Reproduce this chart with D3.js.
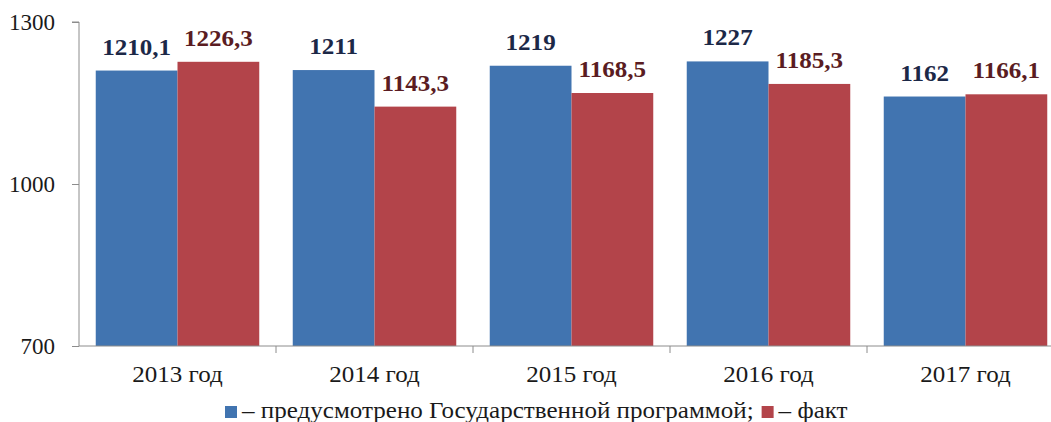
<!DOCTYPE html>
<html>
<head>
<meta charset="utf-8">
<script src="https://cdn.jsdelivr.net/npm/d3@7"></script>
<style>
  body { margin: 0; background: #fff; }
  svg { display: block; font-family: "Liberation Serif", "Times New Roman", serif; }
</style>
</head>
<body>
<div id="vis"></div>
<script>
const years = ['2013 год', '2014 год', '2015 год', '2016 год', '2017 год'];
const planned = [1210.1, 1211, 1219, 1227, 1162];
const actual = [1226.3, 1143.3, 1168.5, 1185.3, 1166.1];
const yTicks = [700, 1000, 1300];
const seriesNames = ['– предусмотрено Государственной программой;', '– факт'];

const width = 1051;
const height = 422;
const stretch = 1.09;

const svg = d3.select('#vis')
              .append('svg')
                .attr('width', width)
                .attr('height', height);

const x = d3.scaleBand()
            .domain(years)
            .range([79, 1064])
            .paddingInner(0.17)
            .paddingOuter(0.085);

const sub = d3.scaleBand()
              .domain([0, 1])
              .range([0, x.bandwidth()]);

const y = d3.scaleLinear()
            .domain([700, 1300])
            .range([346, 22]);

const colors = ['#4174b0', '#b3444a'];
const labelColors = ['#1c2847', '#5a1c22'];
const fmt = (v) => String(v).replace('.', ',');

// text stretched horizontally around (cx, cy)
function wide(sel, cx, cy) {
  sel.attr('transform', 'translate(' + cx + ',' + cy + ') scale(' + stretch + ',1)')
     .attr('x', 0).attr('y', 0);
  return sel;
}

// y axis
const yAxis = svg.append('g')
  .attr('transform', 'translate(79,0)')
  .call(d3.axisLeft(y).tickValues(yTicks).tickSize(7).tickPadding(17).tickFormat(d3.format('d')));
yAxis.select('.domain').attr('stroke', '#8c8c8c').attr('d', 'M-7,' + y(1300) + 'H0V' + y(700));
yAxis.selectAll('.tick line').attr('stroke', '#8c8c8c');
yAxis.selectAll('.tick text')
  .attr('font-size', 23)
  .attr('fill', '#1a1a1a')
  .attr('font-family', '"Liberation Serif", serif');

// bars
const groups = svg.selectAll('.grp')
  .data(years)
  .enter().append('g')
    .attr('class', 'grp')
    .attr('transform', (d) => 'translate(' + x(d) + ',0)');

[planned, actual].forEach(function (series, s) {
  groups.append('rect')
    .attr('x', sub(s))
    .attr('width', sub.bandwidth())
    .attr('y', (d, i) => y(series[i]))
    .attr('height', (d, i) => y(700) - y(series[i]))
    .attr('fill', colors[s]);

  groups.each(function (d, i) {
    wide(d3.select(this).append('text'), sub(s) + sub.bandwidth() / 2, y(series[i]) - 16)
      .attr('text-anchor', 'middle')
      .attr('font-size', 23)
      .attr('font-weight', 'bold')
      .attr('fill', labelColors[s])
      .text(fmt(series[i]));
  });
});

// x axis
const step = x.step();
const xAxis = svg.append('g')
  .attr('transform', 'translate(0,' + y(700) + ')');
xAxis.append('path')
  .attr('d', 'M79,0H' + width)
  .attr('stroke', '#8c8c8c')
  .attr('fill', 'none');
xAxis.selectAll('.tk')
  .data(d3.range(1, years.length))
  .enter().append('line')
    .attr('x1', (i) => x(years[i]) - x.paddingInner() * step / 2)
    .attr('x2', (i) => x(years[i]) - x.paddingInner() * step / 2)
    .attr('y1', 0)
    .attr('y2', 7)
    .attr('stroke', '#8c8c8c');
years.forEach(function (d) {
  wide(xAxis.append('text'), x(d) + x.bandwidth() / 2, 36)
    .attr('text-anchor', 'middle')
    .attr('font-size', 23)
    .attr('fill', '#1a1a1a')
    .text(d);
});

// legend
const legend = svg.append('g').attr('transform', 'translate(0,418)');
let lx = 225;
seriesNames.forEach(function (name, s) {
  legend.append('rect')
    .attr('x', lx)
    .attr('y', -12)
    .attr('width', 12)
    .attr('height', 12)
    .attr('fill', colors[s]);
  const t = wide(legend.append('text'), lx + 17, 0)
    .attr('font-size', 23)
    .attr('fill', '#1a1a1a')
    .text(name);
  lx += 17 + t.node().getComputedTextLength() * stretch + 8;
});
</script>
</body>
</html>
